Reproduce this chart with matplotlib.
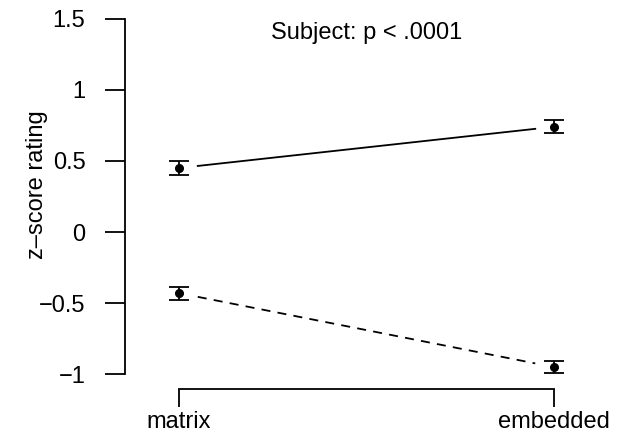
import matplotlib
matplotlib.use("Agg")
import matplotlib.pyplot as plt
import numpy as np

plt.rcParams['font.family'] = ['Liberation Sans', 'DejaVu Sans']

conditions = ['matrix', 'embedded']
solid_mean = [0.45, 0.74]
solid_se = [0.05, 0.045]
dashed_mean = [-0.43, -0.95]
dashed_se = [0.045, 0.043]
yticks = [-1, -0.5, 0, 0.5, 1, 1.5]
ytick_labels = ['\u22121', '\u22120.5', '0', '0.5', '1', '1.5']
title = 'Subject: p < .0001'

W, H = 625, 433
fig = plt.figure(figsize=(W / 100, H / 100), dpi=100)
# axes box in pixels: left 125, right 615, top 15, bottom 389
ax = fig.add_axes([125 / W, (H - 389) / H, (615 - 125) / W, (389 - 15) / H])

x = np.array([1.0, 2.0])
gap = 0.05  # leave a gap between line and points (R type="b")
FS = 17


def draw_series(means, ses, ls):
    means = np.array(means)
    t = np.array([gap, 1 - gap])
    ax.plot(x[0] + t * (x[1] - x[0]), means[0] + t * (means[1] - means[0]),
            color='black', lw=1.3, ls=ls, dashes=(5, 4) if ls == '--' else (None, None))
    ax.errorbar(x, means, yerr=ses, fmt='o', color='black', ms=5.5,
                capsize=7.5, capthick=1.3, elinewidth=1.3)


draw_series(solid_mean, solid_se, '-')
draw_series(dashed_mean, dashed_se, '--')

ax.set_xlim(1 - 54 / 375, 1 + 436 / 375)
ax.set_ylim((232 - 389) / 142.2, (232 - 15) / 142.2)

for s in ['top', 'right']:
    ax.spines[s].set_visible(False)
ax.spines['left'].set_bounds(-1, 1.5)
ax.spines['bottom'].set_bounds(1, 2)
for s in ['left', 'bottom']:
    ax.spines[s].set_linewidth(1.3)

ax.set_yticks(yticks)
ax.set_yticklabels(ytick_labels)
ax.set_xticks(x)
ax.set_xticklabels(conditions)
ax.tick_params(axis='y', length=14.5, width=1.3, pad=14, labelsize=FS)
ax.tick_params(axis='x', length=13, width=1.3, pad=3, labelsize=FS)

fig.text(37 / W, 1 - 185 / H, 'z\u2013score rating', rotation=90,
         ha='center', va='center', fontsize=FS)
ax.text(1.5, (232 - 33) / 142.2, title, ha='center', va='center', fontsize=FS)

fig.savefig('out.png', dpi=100)
